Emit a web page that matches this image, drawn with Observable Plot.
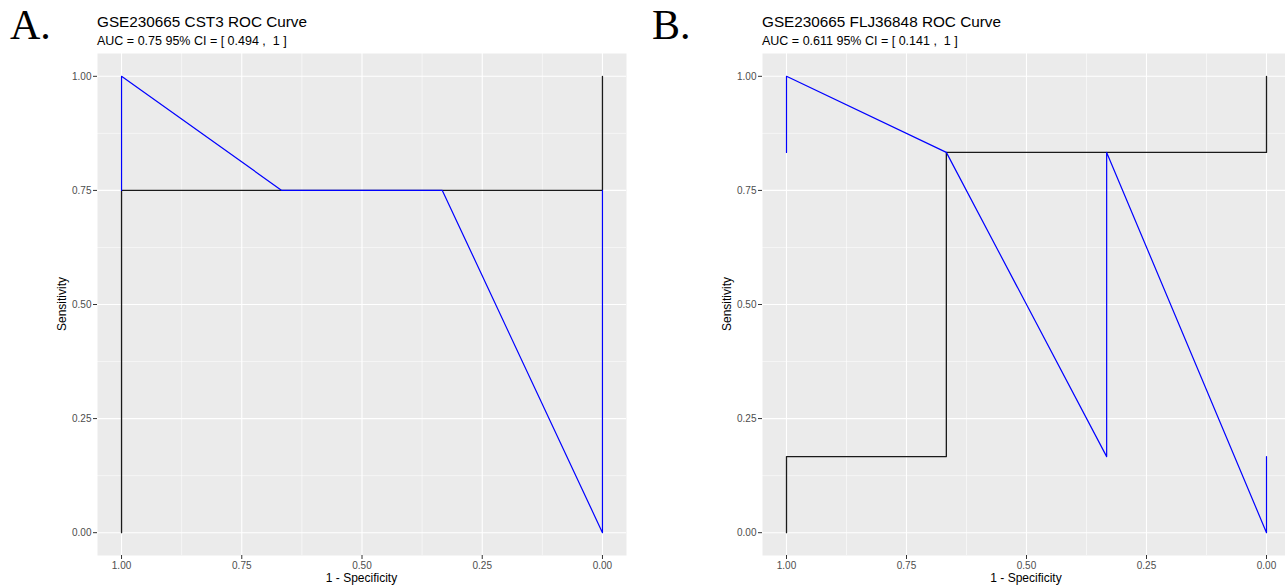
<!DOCTYPE html>
<html><head><meta charset="utf-8">
<script src="https://cdn.jsdelivr.net/npm/d3@7"></script>
<script src="https://cdn.jsdelivr.net/npm/@observablehq/plot@0.6"></script>
<style>
html,body{margin:0;padding:0;background:#fff;width:1285px;height:588px;overflow:hidden;position:relative;font-family:"Liberation Sans",Arial,sans-serif;}
.abs{position:absolute;white-space:pre;}
.letter{font-family:"Liberation Serif","Times New Roman",serif;font-size:42px;color:#000;line-height:1;}
.title{font-size:15.3px;color:#000;line-height:1;}
.sub{font-size:12.5px;color:#000;line-height:1;}
.axt{font-size:12px;color:#000;line-height:1;}
.panel{position:absolute;top:53px;}
.panel svg{max-width:none !important;}
</style></head>
<body>
<div id="root"></div>
<script>
const xTicks = [1, 0.75, 0.5, 0.25, 0];
const yTicks = [0, 0.25, 0.5, 0.75, 1];
const minorTicks = [0.125, 0.375, 0.625, 0.875];

const aBlackX = [1, 1, 0, 0];
const aBlackY = [0, 0.75, 0.75, 1];
const aBlueX = [1, 1, 0.667, 0.333, 0, 0];
const aBlueY = [0.75, 1, 0.75, 0.75, 0, 0.75];

const bBlackX = [1, 1, 0.667, 0.667, 0, 0];
const bBlackY = [0, 0.1667, 0.1667, 0.8333, 0.8333, 1];
const bBlueX = [1, 1, 0.667, 0.333, 0.333, 0, 0];
const bBlueY = [0.8333, 1, 0.8333, 0.1667, 0.8333, 0, 0.1667];

const panels = [
  {letter: "A.", title: "GSE230665 CST3 ROC Curve", sub: "AUC = 0.75 95% CI = [ 0.494 ,  1 ]",
   left: 0, width: 642, marginLeft: 97, marginRight: 16,
   black: {x: aBlackX, y: aBlackY}, blue: {x: aBlueX, y: aBlueY}},
  {letter: "B.", title: "GSE230665 FLJ36848 ROC Curve", sub: "AUC = 0.611 95% CI = [ 0.141 ,  1 ]",
   left: 642, width: 648, marginLeft: 120, marginRight: 0,
   black: {x: bBlackX, y: bBlackY}, blue: {x: bBlueX, y: bBlueY}}
];

const root = document.getElementById("root");
function addText(cls, text, left, top, extra) {
  const d = document.createElement("div");
  d.className = "abs " + cls;
  d.textContent = text;
  d.style.left = left + "px";
  d.style.top = top + "px";
  if (extra) Object.assign(d.style, extra);
  root.appendChild(d);
  return d;
}

const fmt = d => d.toFixed(2);

panels.forEach(p => {
  const pts = (s) => s.x.map((x, i) => ({x, y: s.y[i]}));
  const chart = Plot.plot({
    width: p.width,
    height: 535,
    marginTop: 0,
    marginBottom: 33,
    marginLeft: p.marginLeft,
    marginRight: p.marginRight,
    style: {fontFamily: "'Liberation Sans', Arial, sans-serif", fontSize: "10px", background: "transparent", overflow: "visible"},
    x: {domain: [1.05, -0.05]},
    y: {domain: [-0.05, 1.05]},
    marks: [
      Plot.frame({fill: "#EBEBEB", stroke: null}),
      Plot.ruleX(minorTicks, {stroke: "#fff", strokeWidth: 0.55}),
      Plot.ruleY(minorTicks, {stroke: "#fff", strokeWidth: 0.55}),
      Plot.ruleX(xTicks, {stroke: "#fff", strokeWidth: 1.1}),
      Plot.ruleY(yTicks, {stroke: "#fff", strokeWidth: 1.1}),
      Plot.line(pts(p.black), {x: "x", y: "y", stroke: "#1a1a1a", strokeWidth: 1.3}),
      Plot.line(pts(p.blue), {x: "x", y: "y", stroke: "#0000FF", strokeWidth: 1.2}),
      Plot.axisX({ticks: xTicks, tickFormat: fmt, tickSize: 4, tickPadding: 2, stroke: "#333", fill: "#4D4D4D", fontSize: 10, label: null}),
      Plot.axisY({ticks: yTicks, tickFormat: fmt, tickSize: 4, tickPadding: 2, stroke: "#333", fill: "#4D4D4D", fontSize: 10, label: null})
    ]
  });
  const wrap = document.createElement("div");
  wrap.className = "panel";
  wrap.style.left = p.left + "px";
  wrap.style.width = p.width + "px";
  wrap.style.height = "535px";
  wrap.appendChild(chart);
  root.appendChild(wrap);

  const plotL = p.left + p.marginLeft;
  const plotR = p.left + p.width - p.marginRight;
  addText("letter", p.letter, p.left + 10, 4);
  addText("title", p.title, plotL, 14);
  addText("sub", p.sub, plotL, 35);
  const xt = addText("axt", "1 - Specificity", (plotL + plotR) / 2, 572);
  xt.style.transform = "translateX(-50%)";
  const yt = addText("axt", "Sensitivity", plotL - 35, 304);
  yt.style.transform = "translate(-50%,-50%) rotate(-90deg)";
});
</script>
</body></html>
